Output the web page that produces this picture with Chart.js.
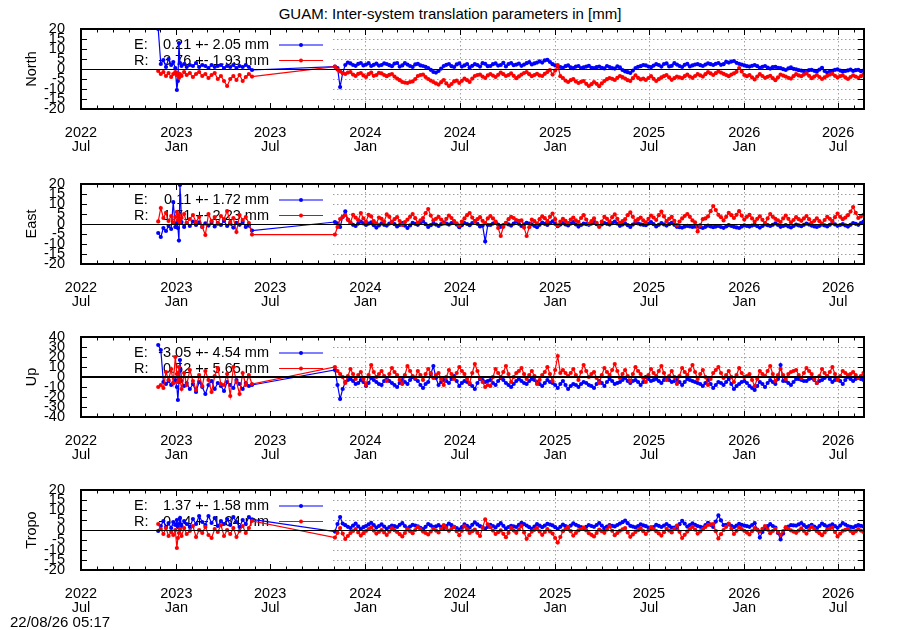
<!DOCTYPE html>
<html>
<head>
<meta charset="utf-8">
<title>GUAM: Inter-system translation parameters</title>
<script src="https://cdn.jsdelivr.net/npm/chart.js@4.4.1/dist/chart.umd.min.js"></script>
<style>
  body { margin: 0; background: #fff; }
  #page { position: relative; width: 900px; height: 630px; font-family: "Liberation Sans", Arial, sans-serif; color: #000; }
  #page canvas { position: absolute; left: 0; }
  #title { position: absolute; top: 6px; left: 0; width: 900px; text-align: center; font-size: 15px; line-height: 16px; }
  #stamp { position: absolute; left: 10px; top: 614px; font-size: 15px; line-height: 16px; }
</style>
</head>
<body>
<div id="page">
  <div id="title">GUAM: Inter-system translation parameters in [mm]</div>
  <canvas id="c0" width="900" height="140" style="top:19px"></canvas>
  <canvas id="c1" width="900" height="140" style="top:174px"></canvas>
  <canvas id="c2" width="900" height="140" style="top:327px"></canvas>
  <canvas id="c3" width="900" height="140" style="top:480px"></canvas>
  <div id="stamp">22/08/26 05:17</div>
</div>
<script>
// epoch days counted from 2022-07-01 (left edge of the axis)
const dayNo = [
  149, 154, 159, 164, 169, 174, 178, 182, 185, 187, 189, 191, 194, 199, 204,
  210, 216, 222, 228, 234, 240, 246, 252, 258, 264, 270, 276, 282, 288, 294, 300, 306, 312, 318, 324, 330,
  490, 500, 510, 520, 530, 540, 550, 560, 570, 580,
  590, 600, 610, 620, 630, 640, 650, 660, 670, 680,
  690, 700, 710, 720, 730, 740, 750, 760, 770, 780,
  790, 800, 810, 820, 830, 840, 850, 860, 870, 880,
  890, 900, 910, 920, 930, 940, 950, 960, 970, 980,
  990, 1000, 1010, 1020, 1030, 1040, 1050, 1060, 1070, 1080,
  1090, 1100, 1110, 1120, 1130, 1140, 1150, 1160, 1170, 1180,
  1190, 1200, 1210, 1220, 1230, 1240, 1250, 1260, 1270, 1280,
  1290, 1300, 1310, 1320, 1330, 1340, 1350, 1360, 1370, 1380,
  1390, 1400, 1410, 1420, 1430, 1440, 1450, 1460, 1470, 1480,
  1490, 1500, 1510
];
// in-between samples of the second campaign
const dayMid = [
  495, 505, 515, 525, 535, 545, 555, 565, 575, 585,
  595, 605, 615, 625, 635, 645, 655, 665, 675, 685,
  695, 705, 715, 725, 735, 745, 755, 765, 775, 785,
  795, 805, 815, 825, 835, 845, 855, 865, 875, 885,
  895, 905, 915, 925, 935, 945, 955, 965, 975, 985,
  995, 1005, 1015, 1025, 1035, 1045, 1055, 1065, 1075, 1085,
  1095, 1105, 1115, 1125, 1135, 1145, 1155, 1165, 1175, 1185,
  1195, 1205, 1215, 1225, 1235, 1245, 1255, 1265, 1275, 1285,
  1295, 1305, 1315, 1325, 1335, 1345, 1355, 1365, 1375, 1385,
  1395, 1405, 1415, 1425, 1435, 1445, 1455, 1465, 1475, 1485,
  1495, 1505
];

const northE = [
  20, 2.5, 4.5, 1, 5, 2, 3.5, 0.5, -10.5, -6, 13, 3, 1.5, 2.5, 1,
  2, 1.5, 3, 1, 2, 1.5, 0.5, 2, 1, 1.5, 2, 0.5, 1.5, 1, 2, 0.5, 1.5, 1, 2, 1, -0.5,
  1.2, -9, 2, 2.8, 1.6, 3, 2.2, 1.5, 2.7, 2,
  2.5, 1.4, 3, 1.8, 2.2, 1, 2.6, 1.5, 0.5, -1.5,
  -1, 1.5, 2.5, 1, 2.8, 1.8, 0.8, 2.4, 1.2, 2.6,
  1.5, 2.8, 2, 1.3, 3, 2.2, 1.6, 2.9, 2.3, 3.2,
  3.2, 4.6, 2.4, 1.2, 0.6, 1.8, 0.4, 1.5, 0.8, 1.6,
  0.5, 1.2, 0.3, 1, 0.2, 0.8, -1.2, -2, 0.5, 1.4,
  1.8, 0.9, 2.4, 1.2, 2.8, 1.6, 2.2, 1, 2.6, 1.8,
  2.4, 1.5, 2.8, 2, 3, 2.4, 3.2, 4, 2.6, 1.8,
  1.2, 2, 0.6, 1.5, 0.2, 1.1, 0.4, -0.5, 0.8, -0.2,
  -0.8, -1.5, -0.4, -1.2, 0.6, -1.8, -0.9, -0.2, -1.3, -0.7,
  -1, -0.4, -0.8
];
const northEMid = [
  0.5, -2, 3.2, 2, 2.6, 1.8, 2.9, 2.1, 1.7, 2.8,
  1.9, 2.7, 1.2, 2.9, 1.5, 2.3, 1.8, 1.1, -0.4, -1.8,
  0.2, 2.1, 1.4, 2.3, 1.2, 2.5, 1.6, 2, 2.9, 1.4,
  2.4, 1.7, 3.1, 2.5, 1.9, 2.7, 2.2, 3.4, 2.8, 3.8,
  4.3, 3.5, 1.8, 1, 1.4, 0.8, 1.2, 0.5, 1.2, 0.6,
  0.9, 0.6, 1.5, 0.4, 1.3, -0.5, -1.6, -0.8, 1.1, 2,
  1.2, 1.7, 2, 2.5, 1.3, 2.9, 1.5, 2.1, 1.3, 2.2,
  1.9, 2.2, 2.4, 2.6, 2.1, 3.6, 3.7, 3.1, 2.2, 1.4,
  1.6, 1.4, 1.1, 0.7, 0.9, 0.6, -0.1, 0.3, 0.1, -0.6,
  -1.1, -0.6, -0.9, -0.3, -1, -1.3, -0.4, -0.8, -1, -0.3,
  -0.6, -1.1
];
const northR = [
  -1, -2.5, -1.5, -3.5, -2, -4, -2.5, -1.5, -3, -2, -4.5, -2.5, -3.5, -1.5, -3,
  -2, -4, -2.5, -1.5, -3.5, -2.5, -4.5, -3, -2, -5, -3.5, -6, -8.5, -5, -3.5, -5.5, -3, -6, -4, -2.5, -3.8,
  1.2, -1.2, -2.5, -1.5, -3.5, -2, -4, -1.8, -3, -2.2,
  -3.6, -2.5, -4.8, -6.5, -7, -6.2, -3.5, -2.8, -5, -6.5,
  -7.8, -5.5, -8.5, -6.2, -7, -4.8, -6.5, -3.5, -2.8, -4.5,
  -2.5, -4, -1.8, -3.5, -2.2, -4.6, -2.8, -1.5, -3.6, -2.4,
  -3.5, -1.5, -2.8, 2, -4.5, -6.5, -5, -7, -6, -8.5,
  -6.5, -8.6, -6, -4.5, -5.5, -3.5, -4.8, -6, -3.2, -5.2,
  -5.5, -3.6, -6, -4.2, -3, -5.4, -3.8, -4.6, -2.8, -4.4,
  -2.6, -3.8, -1.6, -3, -1.2, -2.4, -3.6, -2.2, 0.5, -3,
  -3, -5.2, -2.6, -4.4, -3.4, -5.6, -2.8, -3.8, -4.8, -2.6,
  -3.6, -2.2, -4.6, -3, -5, -3.4, -2.4, -4.2, -3.2, -5,
  -3.2, -4.4, -2.8
];
const northRMid = [
  -0.3, -2, -1.8, -2.8, -2.4, -3.2, -2.6, -3.4, -1.9, -3,
  -2.9, -3.8, -5.6, -6.8, -6.5, -5, -3, -4, -5.8, -7.2,
  -6.6, -7.2, -7.5, -5.8, -5.9, -5.6, -4.8, -3, -3.8, -3.2,
  -3.3, -2.9, -2.6, -3, -3.4, -3.7, -2, -2.6, -3, -3.2,
  -2.4, -0.5, -0.8, -3.6, -5.8, -5.6, -6.2, -6.4, -7.4, -7.6,
  -7.4, -7.2, -5.1, -4.9, -4.4, -4.1, -5.6, -4.6, -4.4, -4.8,
  -4.5, -4.9, -5.1, -3.6, -4.2, -4.6, -4.2, -3.6, -3.8, -3.5,
  -3.2, -2.6, -2.2, -2.1, -1.8, -3, -2.8, -1.4, -1.2, -3.6,
  -4.2, -3.8, -3.5, -3.9, -4.6, -4.2, -3.3, -4.4, -3.6, -3.2,
  -2.8, -3.4, -3.8, -4, -4.2, -2.8, -3.4, -3.6, -4.2, -4,
  -3.8, -3.6
];

const eastE = [
  -4.5, -6.5, -2, -3.5, -1, -2.5, 11, -1.5, 0.5, -2, -8.3, 19.5, 1, -1.5, 0.5,
  -1, 1.2, -0.5, 0.8, -1.5, 0.3, -0.8, 1, -1.2, 0.5, -0.5, 1.5, -1, 0.2, -1.8, 0.6, -0.4, 1, -1.5, -0.8, -3.3,
  1, -1.5, 6.3, 0.5, -1, 1.2, -0.5, 0.8, -1.8, 0.3,
  -0.8, 1, -1.2, 0.4, -2, 0.6, -0.4, 1.3, -1.5, 0.2,
  -1, 0.8, -0.3, 1.1, -1.6, 0.5, -0.6, 1.4, -1.2, -8.7,
  -0.5, 0.9, -1.4, 0.3, -0.8, 1.2, -1, 0.6, -0.2, -1.6,
  0.7, -0.5, 1.3, -1.1, 0.4, -0.7, 1, -1.3, 0.2, -0.4,
  0.9, -1, 0.5, -0.3, 1.2, -0.9, 0.3, -1.5, 0.8, -0.2,
  -0.6, 1, -1.2, 0.4, -0.8, 0.6, -1.4, -1.8, -0.9, -1.5,
  -1.2, -2, -0.8, -1.6, -1, -1.9, -0.6, -1.4, -2, -0.7,
  -1.3, -0.4, -1.8, -0.2, -1, 0.3, -1.4, -0.6, -1.7, -0.3,
  -1.1, 0.2, -0.8, -1.5, -0.3, -1.2, 0.4, -0.9, -0.1, -1.3,
  0.5, -0.4, 1.2
];
const eastEMid = [
  0.3, 3.5, 2.2, -0.4, 0.2, 0.3, 0.2, -0.6, -0.7, -0.4,
  0.2, -0.1, -0.5, -0.8, -0.7, 0.1, 0.5, -0.1, -0.6, -0.3,
  -0.1, 0.2, 0.4, -0.3, -0.6, 0, 0.4, 0.1, -0.8, -0.5,
  0.2, -0.3, -0.5, -0.2, 0.2, 0.1, -0.2, 0.2, -0.9, -0.4,
  0.1, 0.4, 0.1, -0.3, -0.2, 0.2, -0.2, -0.5, -0.1, 0.2,
  -0.1, -0.2, 0.1, 0.4, 0.2, -0.3, -0.6, -0.3, 0.3, -0.4,
  0.2, -0.1, -0.4, -0.2, -0.1, -0.4, -1.6, -1.3, -1.2, -1.3,
  -1.6, -1.4, -1.2, -1.3, -1.5, -1.2, -1, -1.7, -1.3, -1,
  -0.8, -1.1, -1, -0.6, -0.4, -0.5, -1, -1.2, -1, -0.7,
  -0.4, -0.3, -1.2, -0.9, -0.7, -0.4, -0.2, -0.5, -0.7, -0.4,
  0.1, 0.4
];
const eastR = [
  1.3, 8, 3, 5.5, 1.5, 4, 0.5, 3.5, 6, 2, 4.5, 1, 3, 5, 0.5,
  2.5, 4.5, 1, 3.5, -1.5, -5.5, 5, 1.5, 3.5, 0, 4, 2.5, 6.5, 1, 3, -4, 4.5, 2, 3.5, 0.5, -5.3,
  -5.3, 2.5, 4.5, 0.8, 3.2, 5.5, 1.2, 3.8, 0.2, 2.6,
  4.8, 1, 3.4, -0.5, 2.2, 5, 0.6, 3, 7.5, 1.8,
  3.6, 0.2, 4.2, 1.5, -0.8, 2.8, 5.5, 1.2, 3.4, 0.4,
  4, 1.2, -6, 0.6, 3.6, 2, 1.8, -6, 2.2, 0.2,
  3.8, 1.4, 5.2, -0.8, 2.6, 0.4, 3.2, 1, 4.4, 0,
  2.8, -1.5, 3.6, 1.2, 4.8, 0.6, 2.4, 5.8, 1.6, 3.2,
  0.8, 4.2, 2, 6.2, 1.4, 3.6, -0.6, 2.8, 5, 1.8,
  -3.7, 2.4, 3.8, 9, 4.6, 1.8, 5.6, 3, 6.4, 2.2,
  4.6, 1.2, 3.8, 0.4, 5, 2.6, 1, 4.2, 0.8, 3.4,
  1.6, 4, 0.6, 2.8, 0.2, 3.6, 1.4, 5.2, 2.4, 4.4,
  8.5, 3, 4.6
];
const eastRMid = [
  -1.5, 3.6, 2.1, 4.6, 1.9, 2.8, 4.6, 1.4, 3.2, 1.2,
  3.6, 2.4, 1.5, 0.9, 3.6, 2.9, 1.8, 5.4, 4.2, 2.6,
  2.2, 2.6, 3, 0.3, 1.2, 4.4, 3.2, 2.4, 1.6, 2.8,
  2.8, -2, -1.4, 2.4, 3, 1.6, -1.8, -1.6, 1.4, 2.4,
  2.9, 3.6, 2.4, 1.2, 1.6, 2.2, 1.8, 3, 2.2, 1.4,
  0.6, 1.2, 2.6, 3.4, 2.6, 1.4, 4.4, 3.6, 2.4, 1.8,
  2.6, 3.2, 4.4, 3.8, 2.6, 1.6, 1.2, 4, 3.6, 0.8,
  -0.6, 2.8, 6.4, 7, 3.4, 3.6, 4.4, 4.6, 4.2, 3.6,
  2.8, 2.6, 2.1, 2.8, 3.6, 1.8, 2.8, 2.6, 2, 2.4,
  2.8, 2.4, 1.6, 1.4, 2, 2.6, 3.4, 3.6, 3.2, 6.2,
  5.6, 3.8
];

const upE = [
  32, 27, -5, -7, -4, -8, -6, -3, -10, -23, -5, 17, -4, -9, -6,
  -12, -7, -15, -5, -10, -17, -8, -4, -12, -6, -9, -14, -5, -8, -11, -3, -7, -12, -6, -9, -8,
  7, -22, -5, -2, -7, -3, -9, -1, -5, -8,
  -2, -6, -10, -3, -7, 0, -4, -11, -5, 11,
  -8, -3, -6, 1, -9, -4, -7, -12, -2, -5,
  -3, -8, -1, -6, -10, -4, -4, -7, -2, -5,
  -9, -3, -6, -11, -4, -12, -7, -10, -5, -8,
  -11, -4, -9, -2, -7, -5, -1, -6, -3, -8,
  0, -4, -2, -6, -1, -5, -3, -8, -2, -4,
  -6, -9, -3, -11, -5, -8, -2, -12, -7, -4,
  -9, -13, -5, -10, -3, -7, 12, -4, -8, -2,
  -3, -4, -1, -6, -3, 1, -5, -2, -7, 0,
  -4, -1, -3
];
const upEMid = [
  -8, -12, -3, -4, -6, -5, -6, -3, -7, -4,
  -4, -8, -6, -5, -3, -2, -8, -7, 3, -1,
  -5, -4, -2, -4, -6, -5, -9, -6, -3, -4,
  -6, -4, -3, -8, -7, -2, -6, -4, -3, -7,
  -6, -5, -8, -7, -8, -9, -8, -7, -6, -9,
  -7, -6, -5, -4, -6, -3, -4, -4, -5, -5,
  -2, -3, -4, -3, -3, -4, -5, -5, -3, -5,
  -7, -6, -7, -8, -6, -5, -7, -9, -5, -6,
  -11, -9, -7, -6, -5, -2, -4, -6, -5, -2,
  -4, -2, -3, -4, -1, -2, -3, -4, -3, -2,
  -2, -2
];
const upR = [
  -10, -8, -11, 5, -3, 8, -6, 20, 3, -5, 10, -2, -12, 4, -8,
  7, -4, -13, 2, -9, 6, -3, -15, 1, 9, -7, -8, 3, -19, 10, -5, -17, 4, -8, 2, -7,
  10, 3, -6, 8, -2, 5, -8, 12, 0, 6,
  -4, 9, 2, -7, 11, 1, 6, -3, 8, -1,
  4, -8, 7, -2, 10, 3, -6, 13, -1, -10,
  -9, 8, 0, 11, -5, 4, 9, -2, 6, -7,
  2, 10, -4, 21, 7, 1, 8, -3, 12, 0,
  5, -6, 9, 2, 13, -1, 7, -4, 10, 3,
  -5, 8, 1, 11, -3, 6, -7, 9, 2, 12,
  -2, 7, -8, 4, 10, -1, 6, -5, 9, 0,
  3, -9, 6, 1, 11, -4, 8, -2, 5, 7,
  -1, 9, 3, -6, 8, 1, 10, -3, 6, 2,
  5, -1, 4
];
const upRMid = [
  6, 0, 1, 3, 2, -2, 2, 5, 3, 1,
  3, 5, -3, 2, 6, -1, 2, 3, 4, 2,
  -2, 0, 3, 4, 6, -2, 4, 6, -5, -8,
  0, 4, 5, 3, 0, 6, 3, 2, 1, -3,
  5, 3, 7, 4, 4, 4, 2, 5, 6, 3,
  -1, 2, 5, 7, 6, 3, 1, 3, 6, -1,
  2, 4, 6, 4, 1, 0, 1, 5, 7, 5,
  3, 0, -2, 7, 4, 2, 0, 2, 4, 1,
  -3, -2, 3, 6, 3, 2, 2, 3, 6, 2,
  4, 6, -2, 1, 4, 5, 3, 1, 4, 3,
  2, 1
];

const tropoE = [
  -0.5, 2, 4.5, 1.5, 3.5, 1, 4, 2.5, 5, 1.5, 3, 6, 2, 4.5, 3,
  1.5, 5.5, 3, 7, 4, 2.5, 7, 3.5, 6, 2, 4.5, 3, 5.5, 2.5, 6.5, 4, 1.5, 5, 3, 6.5, 5.3,
  -0.8, 6.5, 2.4, 1, 3.2, 0.5, 2, 3.6, 1.2, 2.8,
  0.6, 2.2, 1.5, 3.4, 0.8, 2.6, 1.8, 0.4, 3, 1.4,
  2.4, 0.9, 3.2, 1.6, 0.2, 2.8, 1.2, 3.8, 1.9, 0.7,
  2.6, 1.3, 3.4, 0.8, 2.1, 1.5, 3.6, 2.2, 0.6, 2.9,
  1.4, 3.1, 2.3, 0.5, 2.7, 1.1, 3.3, 2, 0.8, 2.5,
  1.6, 3.5, 0.9, 2.4, 1.8, 3.2, 4.7, 2.1, 1.3, 2.8,
  1.9, 0.4, 2.6, 1.5, 3, 1.2, 1.1, 4.6, 1.7, 3.3,
  2, 1.2, 3.6, 1.5, 7.3, 2.4, 2.8, 1.4, 3.1, 2.2,
  1.6, 3.4, -3.8, 0.8, 2.9, 1.2, -4.7, 1, 2.4, 2.2,
  3.5, 1.4, 2.6, 0.9, 3.2, 1.7, 2.8, 1.1, 3.4, 2,
  1.3, 2.5, 1.8
];
const tropoEMid = [
  3, 3.2, 1.6, 2.2, 1.8, 1.4, 2.8, 2.4, 2, 1.7,
  1.5, 1.9, 2.6, 2, 1.7, 2.2, 1.1, 1.6, 2.3, 1.8,
  1.6, 2, 2.4, 1, 1.4, 2.1, 2.6, 2.8, 1.3, 1.6,
  2, 2.4, 2.1, 1.5, 1.8, 2.6, 2.9, 1.4, 1.7, 2.2,
  2.2, 2.7, 1.4, 1.6, 1.9, 2.2, 2.6, 1.4, 1.6, 2,
  2.5, 2.2, 1.7, 2.1, 2.5, 3.9, 3.4, 1.7, 2, 2.3,
  1.2, 1.5, 2.1, 2.2, 2.1, 1.2, 2.9, 3.2, 2.5, 2.6,
  1.6, 2.4, 2.6, 4.2, 4.8, 2.6, 2.1, 2.2, 2.6, 1.9,
  2.5, 0.2, -1, 1.9, 2, -1.5, -1.8, 1.7, 2.3, 2.8,
  2.4, 2, 1.7, 2, 2.4, 2.2, 1.9, 2.2, 2.7, 1.6,
  1.9, 2.1
];
const tropoR = [
  3, 0.5, -2, 1, -3, -1, -2.5, 0, -9, -4, -1.5, 0.5, -3, 1, -2,
  -0.5, 2, -3.5, 0, -1.5, 1.5, -2.5, -4, 0.5, -1, 2.5, -3, 0, -2, 1, -3.5, -0.5, 2, -1.5, 1, 4.5,
  -3.8, 1, -4.5, -1.5, 0.5, -2.8, -0.5, 1.2, -1.8, 0,
  -2.5, 0.8, -1, -3.2, 0.3, -1.6, 1.5, -0.8, -2.2, 0.6,
  -1.2, 2.4, -0.4, 1.5, -2.6, 1.8, -1.5, 0.2, -3, 5.3,
  1.4, -2, -0.2, -3.6, 0.9, -1.4, 2, -4.4, -0.8, 1,
  -2.4, 0.4, -1.8, -6.3, -0.6, 1.6, -2.8, -0.2, 1.2, -1.6,
  -3.2, 0.2, -1.4, 1.8, -2.6, -0.4, 1, -3.4, -1, 0.8,
  -2, 1.4, -0.6, -2.8, 0.6, -1.2, 2.2, -4, -0.8, 1.6,
  -1.8, 0.4, 2.6, 3, -4.2, 0, 3.2, -2, 1.2, -0.4,
  -2.2, 1, -0.8, 2, -1.6, 0.6, -2.4, 1.4, -0.2, -1.4,
  0.8, -1.8, 1.6, -0.6, -2.6, 0.2, 1.2, -3.2, -0.4, 0.6,
  -1.6, 0.4, -1
];
const tropoRMid = [
  -1.4, -1.8, -3, -0.5, -1.2, -1.6, 0.4, -0.3, -0.9, -1.2,
  -0.8, -0.1, -2.1, -1.5, -0.6, 0, 0.4, -1.5, -0.8, -0.3,
  0.6, 1, 0.6, -0.6, -0.4, 0.2, -0.6, -1.4, 1.2, 2.8,
  -0.3, -1.1, -1.9, -1.4, -0.3, 0.3, -1.2, -2.6, 0.1, -0.7,
  -1, -0.7, -4, -3.5, 0.5, -0.6, -1.5, 0.5, -0.2, -2.4,
  -1.5, -0.6, 0.2, -0.4, -1.5, 0.3, -1.2, -2.2, -0.1, -0.6,
  -0.3, 0.4, -1.7, -1.1, -0.3, 0.5, -0.9, -2.4, 0.4, 0.2,
  -0.7, 1.5, 2.8, -0.6, -2.1, 1.6, 0.6, -0.4, 0.4, -1.3,
  -0.6, 0.1, 0.6, 0.2, -0.5, -0.9, -0.5, 0.6, -0.8, -0.3,
  -0.5, -0.1, 0.5, -1.6, -1.2, 0.7, -1, -1.8, 0.1, -0.5,
  -0.6, -0.3
];

const eStats = ['0.21 +- 2.05', '0.11 +- 1.72', '-3.05 +- 4.54', '1.37 +- 1.58'];
const rStats = ['-3.76 +- 1.93', '1.71 +- 2.23', '0.52 +- 5.65', '-0.44 +- 1.84'];

const majorTicks = ['2022-07-01', '2023-01-01', '2023-07-01', '2024-01-01', '2024-07-01',
                    '2025-01-01', '2025-07-01', '2026-01-01', '2026-07-01'];
const majorLabels = [['2022', 'Jul'], ['2023', 'Jan'], ['2023', 'Jul'], ['2024', 'Jan'], ['2024', 'Jul'],
                     ['2025', 'Jan'], ['2025', 'Jul'], ['2026', 'Jan'], ['2026', 'Jul']];
const axisEnd = '2026-08-20';

const FONT = "'Liberation Sans', Arial, sans-serif";
const BLUE = '#0000ff';
const RED = '#ff0000';

function dayOf(iso) {
  const p = iso.split('-').map(Number);
  return (Date.UTC(p[0], p[1] - 1, p[2]) - Date.UTC(2022, 6, 1)) / 864e5;
}
const majorDays = majorTicks.map(dayOf);
const minorDays = [];
for (let m = 0; m <= 49; m++) minorDays.push((Date.UTC(2022, 6 + m, 1) - Date.UTC(2022, 6, 1)) / 864e5);

function points(main, mid) {
  const pts = dayNo.map((d, k) => ({ x: d, y: main[k] }))
    .concat(dayMid.map((d, k) => ({ x: d, y: mid[k] })));
  return pts.sort((a, b) => a.x - b.x);
}

const panels = [
  { name: 'North', range: 20, step: 5, e: points(northE, northEMid), r: points(northR, northRMid), zero: 1 },
  { name: 'East', range: 20, step: 5, e: points(eastE, eastEMid), r: points(eastR, eastRMid), zero: 1 },
  { name: 'Up', range: 40, step: 10, e: points(upE, upEMid), r: points(upR, upRMid), zero: 2 },
  { name: 'Tropo', range: 20, step: 5, e: points(tropoE, tropoEMid), r: points(tropoR, tropoRMid), zero: 1 }
];

function seg(ctx, x1, y1, x2, y2) {
  ctx.beginPath(); ctx.moveTo(x1, y1); ctx.lineTo(x2, y2); ctx.stroke();
}

// gnuplot-like frame: dotted grid, opaque key box, key, zero axis, border with inward ticks
const gnuFrame = {
  id: 'gnuFrame',
  beforeDatasetsDraw(chart, args, o) {
    const { ctx, chartArea: a, scales: { x, y } } = chart;
    ctx.save();
    ctx.strokeStyle = '#a0a0a0';
    ctx.lineWidth = 1;
    ctx.setLineDash([1.5, 2.5]);
    y.ticks.forEach(t => {
      if (t.value === 0 || Math.abs(t.value) === o.range) return;
      const py = Math.round(y.getPixelForValue(t.value)) + 0.5;
      seg(ctx, a.left, py, a.right, py);
    });
    majorDays.forEach(d => {
      const px = Math.round(x.getPixelForValue(d)) + 0.5;
      if (px < a.left + 2 || px > a.right - 2) return;
      seg(ctx, px, a.top, px, a.bottom);
    });
    ctx.setLineDash([]);

    // opaque key box
    ctx.fillStyle = '#fff';
    ctx.fillRect(a.left, a.top, 250, a.bottom - a.top);

    // key
    ctx.font = '14.5px ' + FONT;
    ctx.fillStyle = '#000';
    ctx.textBaseline = 'middle';
    const rows = [['E:', o.eStat, BLUE, a.top + 16], ['R:', o.rStat, RED, a.top + 31.5]];
    rows.forEach(([tag, txt, col, ty]) => {
      ctx.textAlign = 'left';
      ctx.fillText(tag, a.left + 53, ty);
      ctx.textAlign = 'right';
      ctx.fillText(txt + ' mm', a.left + 188, ty);
      ctx.strokeStyle = col;
      ctx.lineWidth = 1;
      seg(ctx, a.left + 198, ty, a.left + 242, ty);
      ctx.fillStyle = col;
      ctx.beginPath(); ctx.arc(a.left + 220, ty, 2, 0, Math.PI * 2); ctx.fill();
      ctx.fillStyle = '#000';
    });
    ctx.restore();
  },
  afterDatasetsDraw(chart, args, o) {
    const { ctx, chartArea: a, scales: { x, y } } = chart;
    ctx.save();
    ctx.strokeStyle = '#000';
    ctx.lineWidth = o.zero;
    const zy = Math.round(y.getPixelForValue(0)) + (o.zero === 1 ? 0.5 : 0);
    seg(ctx, a.left, zy, a.right, zy);

    ctx.lineWidth = 1;
    majorDays.forEach(d => {
      const px = Math.round(x.getPixelForValue(d)) + 0.5;
      seg(ctx, px, a.bottom, px, a.bottom - 6);
      seg(ctx, px, a.top, px, a.top + 6);
    });
    minorDays.forEach(d => {
      const px = Math.round(x.getPixelForValue(d)) + 0.5;
      if (px > a.right) return;
      seg(ctx, px, a.bottom, px, a.bottom - 3.5);
      seg(ctx, px, a.top, px, a.top + 3.5);
    });
    y.ticks.forEach(t => {
      const py = Math.round(y.getPixelForValue(t.value)) + 0.5;
      seg(ctx, a.left, py, a.left + 6, py);
      seg(ctx, a.right, py, a.right - 6, py);
    });
    ctx.lineWidth = 2;
    ctx.strokeRect(a.left, a.top, a.right - a.left, a.bottom - a.top);
    ctx.restore();
  }
};

panels.forEach((p, i) => {
  const tickFont = { family: FONT, size: 14.5, lineHeight: 0.95 };
  new Chart(document.getElementById('c' + i), {
    type: 'line',
    data: {
      datasets: [
        {
          label: 'E', order: 1, data: p.e,
          borderColor: BLUE, backgroundColor: BLUE, borderWidth: 1.2,
          pointRadius: 2.1, pointBorderWidth: 0, pointBackgroundColor: BLUE, tension: 0
        },
        {
          label: 'R', order: 0, data: p.r,
          borderColor: RED, backgroundColor: RED, borderWidth: 1.2,
          pointRadius: 2.1, pointBorderWidth: 0, pointBackgroundColor: RED, tension: 0
        }
      ]
    },
    options: {
      responsive: false,
      animation: false,
      events: [],
      layout: { padding: { left: 0, right: 36, top: 10, bottom: 0 } },
      plugins: {
        legend: { display: false },
        tooltip: { enabled: false },
        gnuFrame: { range: p.range, zero: p.zero, eStat: eStats[i], rStat: rStats[i] }
      },
      scales: {
        x: {
          type: 'linear', min: 0, max: dayOf(axisEnd),
          grid: { display: false }, border: { display: false },
          afterBuildTicks: s => { s.ticks = majorDays.map(v => ({ value: v })); },
          afterFit: s => { s.height = 50; s.paddingLeft = 0; s.paddingRight = 0; },
          ticks: {
            autoSkip: false, maxRotation: 0, padding: 9, color: '#000', font: tickFont,
            callback: v => majorLabels[majorDays.indexOf(v)] || ''
          }
        },
        y: {
          min: -p.range, max: p.range,
          grid: { display: false }, border: { display: false },
          afterFit: s => { s.width = 81; s.paddingTop = 0; s.paddingBottom = 0; },
          ticks: { stepSize: p.step, autoSkip: false, padding: 8, color: '#000', font: { family: FONT, size: 14.5 } },
          title: { display: true, text: p.name, color: '#000', font: { family: FONT, size: 14.5 }, padding: { top: 23, bottom: 0 } }
        }
      }
    },
    plugins: [gnuFrame]
  });
});
</script>
</body>
</html>
